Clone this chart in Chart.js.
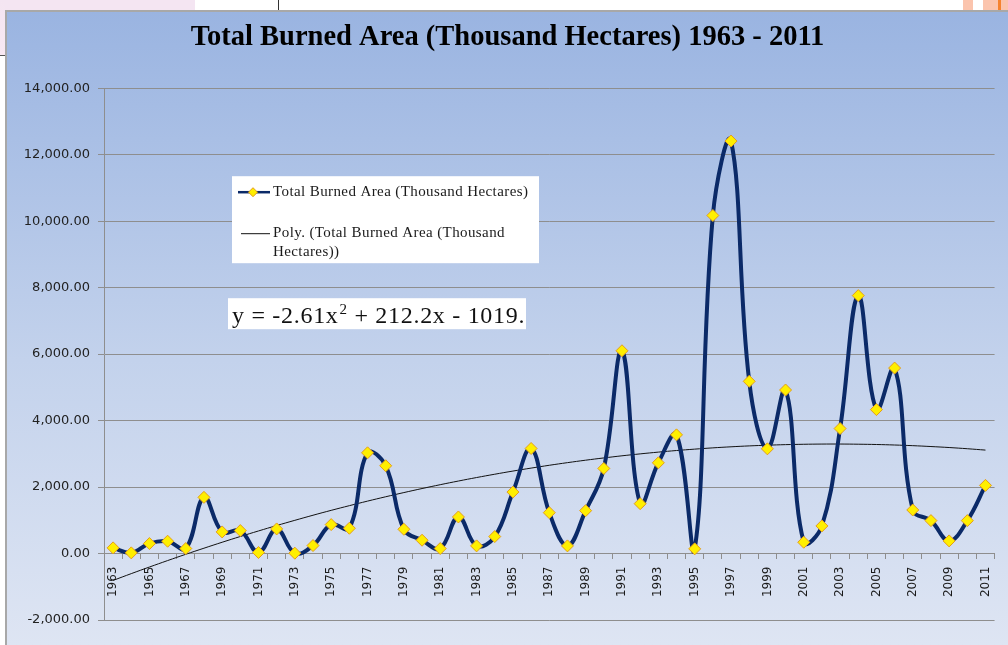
<!DOCTYPE html>
<html>
<head>
    <title>Total Burned Area</title>
    <script src="https://cdn.jsdelivr.net/npm/chart.js"></script>
    <style>
        body {
            margin: 0;
            background: #fff;
            width: 1008px;
            height: 645px;
            overflow: hidden;
            position: relative;
        }
        .strip-top { position: absolute; left: 0; top: 0; width: 195px; height: 10px; background: #f4e5f2; }
        .strip-left { position: absolute; left: 0; top: 0; width: 5px; height: 55px; background: linear-gradient(#f4e5f2, #f8e8f2); border-bottom: 1px solid #555; }
        .vline { position: absolute; left: 278px; top: 0; width: 1px; height: 10px; background: #333; }
        .orange1 { position: absolute; left: 963px; top: 0; width: 10px; height: 10px; background: #fbc4ad; }
        .orange2 { position: absolute; left: 983px; top: 0; width: 25px; height: 10px; background: #fbc4ad; }
        .orange3 { position: absolute; left: 998px; top: 0; width: 3px; height: 10px; background: #f5822e; }
        .container {
            position: absolute;
            left: 5px;
            top: 10px;
            width: 1001px;
            height: 633px;
            border-left: 2px solid #a8a8a8;
            border-top: 2px solid #a8a8a8;
            background: linear-gradient(#9ab4e1, #c3d2ec 55%, #dee5f3);
        }
    </style>
</head>
<body>
    <div class="strip-top"></div>
    <div class="strip-left"></div>
    <div class="vline"></div>
    <div class="orange1"></div>
    <div class="orange2"></div>
    <div class="orange3"></div>
    <div class="container">
        <canvas id="burnChart" width="1001" height="633"></canvas>
    </div>

    <script>
        const years = [
            '1963','1964','1965','1966','1967','1968','1969','1970','1971','1972',
            '1973','1974','1975','1976','1977','1978','1979','1980','1981','1982',
            '1983','1984','1985','1986','1987','1988','1989','1990','1991','1992',
            '1993','1994','1995','1996','1997','1998','1999','2000','2001','2002',
            '2003','2004','2005','2006','2007','2008','2009','2010','2011'
        ];
        // thousand hectares
        const burnedArea = [
            170, 20, 300, 370, 150, 1690, 650, 690, 30, 740,
            10, 240, 870, 760, 3030, 2640, 730, 400, 150, 1100,
            230, 510, 1850, 3160, 1230, 230, 1290, 2560, 6100, 1500,
            2730, 3570, 140, 10170, 12410, 5180, 3150, 4920, 340, 830,
            3760, 7760, 4330, 5580, 1310, 990, 380, 990, 2050
        ];
        // polynomial trend line as drawn
        const trendLine = [
            -809, -605, -406, -212, -23, 160, 339, 512, 679, 842,
            999, 1152, 1299, 1440, 1577, 1708, 1834, 1955, 2071, 2181,
            2286, 2386, 2481, 2570, 2655, 2734, 2808, 2876, 2940, 2998,
            3051, 3099, 3141, 3179, 3211, 3238, 3259, 3276, 3287, 3293,
            3294, 3289, 3280, 3265, 3245, 3219, 3189, 3153, 3112
        ];
        const yTicks = [-2000, 0, 2000, 4000, 6000, 8000, 10000, 12000, 14000];

        const seriesName = 'Total Burned Area (Thousand Hectares)';
        const navy = '#0b2a68';
        const gridGray = '#8e8e8e';

        // legend box + trend equation, drawn on top like the Excel overlay
        const overlay = {
            id: 'overlay',
            afterDatasetsDraw(chart) {
                const ctx = chart.ctx;
                const ca = chart.chartArea;
                ctx.save();

                const lx = ca.left + 128, ly = ca.top + 88;
                ctx.fillStyle = '#fff';
                ctx.fillRect(lx, ly, 307, 87);

                ctx.strokeStyle = navy;
                ctx.lineWidth = 2.5;
                ctx.beginPath();
                ctx.moveTo(lx + 6, ly + 16);
                ctx.lineTo(lx + 38, ly + 16);
                ctx.stroke();
                ctx.fillStyle = '#ffef00';
                ctx.strokeStyle = '#e39b1b';
                ctx.lineWidth = 1;
                ctx.beginPath();
                ctx.moveTo(lx + 21, ly + 11.5);
                ctx.lineTo(lx + 25.5, ly + 16);
                ctx.lineTo(lx + 21, ly + 20.5);
                ctx.lineTo(lx + 16.5, ly + 16);
                ctx.closePath();
                ctx.fill();
                ctx.stroke();

                ctx.strokeStyle = '#111';
                ctx.lineWidth = 1;
                ctx.beginPath();
                ctx.moveTo(lx + 9, ly + 57.5);
                ctx.lineTo(lx + 38, ly + 57.5);
                ctx.stroke();

                ctx.fillStyle = '#1a1a1a';
                ctx.font = '15px "Liberation Serif"';
                ctx.letterSpacing = '0.4px';
                ctx.textBaseline = 'middle';
                ctx.fillText(seriesName, lx + 41, ly + 16);
                ctx.fillText('Poly. (Total Burned Area (Thousand', lx + 41, ly + 57);
                ctx.fillText('Hectares))', lx + 41, ly + 76);

                const ex = ca.left + 124, ey = ca.top + 210;
                ctx.fillStyle = '#fff';
                ctx.fillRect(ex, ey, 298, 31);
                ctx.fillStyle = '#111';
                ctx.textBaseline = 'alphabetic';
                ctx.letterSpacing = '0.7px';
                ctx.font = '24px "Liberation Serif"';
                const part1 = 'y = -2.61x';
                ctx.fillText(part1, ex + 4, ey + 25);
                let x = ex + 4 + ctx.measureText(part1).width;
                ctx.font = '15px "Liberation Serif"';
                ctx.fillText('2', x + 1, ey + 16);
                x += ctx.measureText('2').width + 1;
                ctx.font = '24px "Liberation Serif"';
                ctx.fillText(' + 212.2x - 1019.', x, ey + 25);
                ctx.restore();
            }
        };

        const ctx = document.getElementById('burnChart').getContext('2d');
        new Chart(ctx, {
            type: 'line',
            data: {
                labels: years,
                datasets: [{
                    label: seriesName,
                    data: burnedArea,
                    borderColor: navy,
                    borderWidth: 4,
                    tension: 0.4,
                    pointStyle: 'rectRot',
                    pointRadius: 6,
                    pointBackgroundColor: '#ffef00',
                    pointBorderColor: '#e39b1b',
                    pointBorderWidth: 1,
                    order: 1
                }, {
                    label: 'Poly. (Total Burned Area (Thousand Hectares))',
                    data: trendLine,
                    borderColor: '#111',
                    borderWidth: 1,
                    pointRadius: 0,
                    tension: 0.4,
                    order: 2
                }]
            },
            options: {
                responsive: false,
                animation: false,
                layout: { padding: { left: 12, right: 12, top: 0, bottom: 25 } },
                plugins: {
                    legend: { display: false },
                    tooltip: { enabled: false },
                    title: {
                        display: true,
                        text: 'Total Burned Area (Thousand Hectares) 1963 - 2011',
                        color: '#000',
                        font: { family: '"Liberation Serif"', size: 28.5, weight: 'bold' },
                        padding: { top: 9, bottom: 33 }
                    }
                },
                scales: {
                    x: {
                        position: { y: 0 },
                        offset: true,
                        grid: { offset: true, drawOnChartArea: false, tickLength: 5, color: gridGray },
                        border: { color: gridGray },
                        ticks: {
                            autoSkip: false,
                            minRotation: 90,
                            maxRotation: 90,
                            padding: 8,
                            color: '#1a1a1a',
                            font: { family: '"DejaVu Sans"', size: 12 },
                            callback: function(v, i) { return i % 2 === 0 ? years[i] : ''; }
                        }
                    },
                    y: {
                        min: yTicks[0],
                        max: yTicks[yTicks.length - 1],
                        afterBuildTicks: function(scale) { scale.ticks = yTicks.map(v => ({ value: v })); },
                        afterFit: function(scale) { scale.width = 85; },
                        grid: { color: gridGray, tickLength: 6 },
                        border: { color: gridGray },
                        ticks: {
                            padding: 8,
                            color: '#222',
                            font: { family: '"DejaVu Sans"', size: 13 },
                            callback: function(v) {
                                return v.toLocaleString('en-US', { minimumFractionDigits: 2, maximumFractionDigits: 2 });
                            }
                        }
                    }
                }
            },
            plugins: [overlay]
        });
    </script>
</body>
</html>
